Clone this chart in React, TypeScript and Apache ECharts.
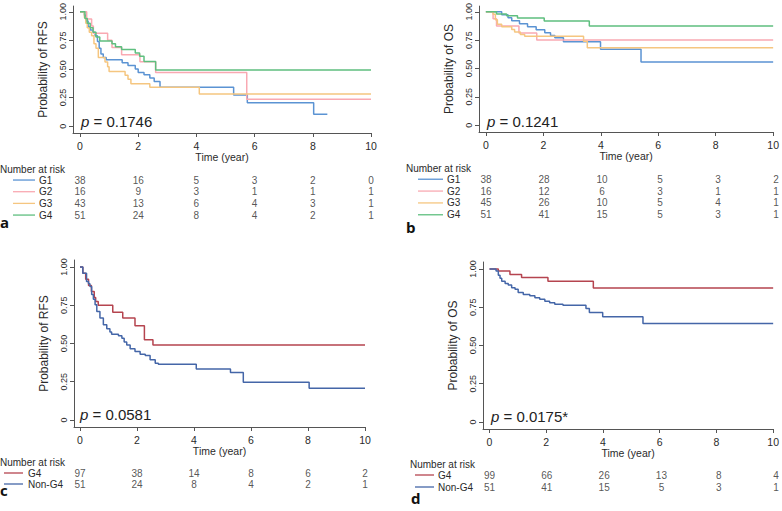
import React, { useEffect, useRef } from 'react';
import * as echarts from 'echarts';

// ---------- tick values / labels ----------
const xTickValues = [0, 2, 4, 6, 8, 10];
const yTickValues = [0, 0.25, 0.5, 0.75, 1];
const yTickLabels = ['0', '0.25', '0.50', '0.75', '1.00'];
const riskTimes = [0, 2, 4, 6, 8, 10];

const groupsAB = ['G1', 'G2', 'G3', 'G4'];
const groupsCD = ['G4', 'Non-G4'];

const yTitles = ['Probability of RFS', 'Probability of OS', 'Probability of RFS', 'Probability of OS'];
const pValues = ['0.1746', '0.1241', '0.0581', '0.0175*'];
const panelLetters = ['a', 'b', 'c', 'd'];

// ---------- Kaplan-Meier curves [time (year), survival] ----------
// Panel a: RFS by group
const rfsG1 = [[0, 1], [0.15, 0.97], [0.2, 0.92], [0.28, 0.87], [0.35, 0.84], [0.45, 0.82], [0.52, 0.79], [0.6, 0.74], [0.66, 0.68], [0.72, 0.63], [0.8, 0.6], [0.9, 0.58], [1.45, 0.555], [1.65, 0.53], [1.9, 0.5], [2.0, 0.47], [2.2, 0.45], [2.4, 0.42], [2.55, 0.39], [2.75, 0.34], [5.28, 0.272], [5.75, 0.205], [8.03, 0.103], [8.5, 0.103]];
const rfsG2 = [[0, 1], [0.23, 0.9375], [0.4, 0.875], [0.46, 0.8125], [0.95, 0.75], [1.1, 0.6875], [1.43, 0.625], [2.06, 0.5625], [2.6, 0.47], [5.73, 0.235], [10, 0.235]];
const rfsG3 = [[0, 1], [0.15, 0.95], [0.2, 0.9], [0.25, 0.86], [0.32, 0.82], [0.4, 0.79], [0.48, 0.72], [0.55, 0.68], [0.63, 0.6], [0.86, 0.56], [0.95, 0.52], [1.0, 0.478], [1.55, 0.445], [1.65, 0.41], [1.75, 0.37], [2.4, 0.34], [4.1, 0.28], [10, 0.28]];
const rfsG4 = [[0, 1], [0.17, 0.94], [0.25, 0.9], [0.35, 0.86], [0.45, 0.82], [0.55, 0.78], [0.68, 0.745], [1.1, 0.72], [1.22, 0.695], [1.43, 0.67], [1.9, 0.64], [2.05, 0.61], [2.2, 0.565], [2.6, 0.49], [10, 0.49]];

// Panel b: OS by group
const osG1 = [[0, 1], [0.55, 0.974], [0.77, 0.947], [0.9, 0.921], [1.17, 0.895], [1.45, 0.868], [1.75, 0.842], [2.05, 0.816], [2.25, 0.79], [2.4, 0.77], [2.7, 0.735], [3.99, 0.67], [5.4, 0.556], [10, 0.556]];
const osG2 = [[0, 1], [0.25, 0.9375], [0.37, 0.875], [1.15, 0.8125], [1.77, 0.75], [10, 0.75]];
const osG3 = [[0, 1], [0.25, 0.978], [0.33, 0.93], [0.4, 0.89], [0.55, 0.867], [0.9, 0.844], [1.0, 0.822], [1.2, 0.8], [1.35, 0.785], [3.4, 0.74], [3.53, 0.683], [10, 0.683]];
const osG4 = [[0, 1], [0.37, 0.98], [0.72, 0.965], [1.1, 0.945], [2.03, 0.918], [3.6, 0.874], [10, 0.874]];

// Panel c: RFS G4 vs Non-G4
const rfsCG4 = [[0, 1], [0.1, 0.96], [0.2, 0.92], [0.3, 0.88], [0.4, 0.84], [0.5, 0.8], [0.55, 0.775], [0.64, 0.75], [1.15, 0.705], [1.5, 0.666], [1.93, 0.616], [2.26, 0.524], [2.56, 0.49], [10, 0.49]];
const rfsCNon = [[0, 1], [0.1, 0.96], [0.23, 0.906], [0.3, 0.89], [0.35, 0.873], [0.41, 0.82], [0.47, 0.79], [0.53, 0.753], [0.59, 0.71], [0.7, 0.666], [0.82, 0.622], [0.94, 0.596], [1.05, 0.575], [1.11, 0.56], [1.35, 0.55], [1.47, 0.535], [1.55, 0.51], [1.64, 0.49], [1.76, 0.465], [1.93, 0.448], [2.11, 0.43], [2.29, 0.421], [2.46, 0.393], [2.64, 0.371], [2.75, 0.365], [4.08, 0.334], [5.28, 0.31], [5.73, 0.247], [8.04, 0.207], [10, 0.207]];

// Panel d: OS G4 vs Non-G4
const osDG4 = [[0, 1], [0.31, 0.987], [0.72, 0.965], [1.13, 0.945], [2.06, 0.92], [3.66, 0.876], [10, 0.876]];
const osDNon = [[0, 1], [0.23, 0.987], [0.31, 0.96], [0.37, 0.94], [0.43, 0.92], [0.55, 0.906], [0.66, 0.895], [0.78, 0.878], [0.9, 0.867], [1.01, 0.847], [1.19, 0.834], [1.42, 0.825], [1.6, 0.812], [1.77, 0.803], [1.95, 0.79], [2.12, 0.78], [2.3, 0.769], [2.59, 0.764], [3.4, 0.742], [3.52, 0.716], [3.99, 0.688], [5.41, 0.644], [10, 0.644]];

// ---------- Number at risk ----------
const riskA_G1 = [38, 16, 5, 3, 2, 0];
const riskA_G2 = [16, 9, 3, 1, 1, 1];
const riskA_G3 = [43, 13, 6, 4, 3, 1];
const riskA_G4 = [51, 24, 8, 4, 2, 1];
const riskB_G1 = [38, 28, 10, 5, 3, 2];
const riskB_G2 = [16, 12, 6, 3, 1, 1];
const riskB_G3 = [45, 26, 10, 5, 4, 1];
const riskB_G4 = [51, 41, 15, 5, 3, 1];
const riskC_G4 = [97, 38, 14, 8, 6, 2];
const riskC_Non = [51, 24, 8, 4, 2, 1];
const riskD_G4 = [99, 66, 26, 13, 8, 4];
const riskD_Non = [51, 41, 15, 5, 3, 1];

// ---------- styles ----------
const colG1 = '#5b93d3';
const colG2 = '#f9a9b2';
const colG3 = '#f5c680';
const colG4 = '#5fbf7f';
const colRed = '#b5444f';
const colBlue = '#4466a8';
const axisCol = '#555555';
const textCol = '#2a2a2a';
const FF = '"Liberation Sans", Arial, sans-serif';

const panels = [
  { left: 73, width: 298, top: 5.3, height: 127.7, xmin: -0.24, ymin: -0.06, ymax: 1.05, xGap: 17,
    tTop: 174.2, tH: 46.7, labM: 34, lx1: 13, lx2: 35, narX: 0, narY: 169, letX: 0, letY: 222, pX: 81, pY: 121.5,
    groups: groupsAB, curves: [rfsG1, rfsG2, rfsG3, rfsG4], risks: [riskA_G1, riskA_G2, riskA_G3, riskA_G4], colors: [colG1, colG2, colG3, colG4] },
  { left: 479, width: 297, top: 3.7, height: 128.3, xmin: -0.24, ymin: -0.06, ymax: 1.05, xGap: 17,
    tTop: 173.3, tH: 47.4, labM: 32, lx1: 418, lx2: 443, narX: 406, narY: 168, letX: 406, letY: 227, pX: 487, pY: 121.5,
    groups: groupsAB, curves: [osG1, osG2, osG3, osG4], risks: [riskB_G1, riskB_G2, riskB_G3, riskB_G4], colors: [colG1, colG2, colG3, colG4] },
  { left: 74, width: 291, top: 260, height: 167, xmin: -0.21, ymin: -0.046, ymax: 1.046, xGap: 17,
    tTop: 467.5, tH: 22, labM: 46, lx1: 4, lx2: 23, narX: 0, narY: 462, letX: 0, letY: 490, pX: 80, pY: 414.5,
    groups: groupsCD, curves: [rfsCG4, rfsCNon], risks: [riskC_G4, riskC_Non], colors: [colRed, colBlue] },
  { left: 483, width: 293, top: 262, height: 167, xmin: -0.23, ymin: -0.046, ymax: 1.046, xGap: 18,
    tTop: 469, tH: 24, labM: 45, lx1: 415, lx2: 434, narX: 410, narY: 464, letX: 411, letY: 498, pX: 491, pY: 416.5,
    groups: groupsCD, curves: [osDG4, osDNon], risks: [riskD_G4, riskD_Non], colors: [colRed, colBlue] },
];

function buildOption() {
  const grid: any[] = [];
  const xAxis: any[] = [];
  const yAxis: any[] = [];
  const series: any[] = [];
  const graphic: any[] = [];

  panels.forEach((p, i) => {
    grid.push({ left: p.left, top: p.top, width: p.width, height: p.height, containLabel: false });
    xAxis.push({
      gridIndex: i, type: 'value', min: p.xmin, max: 10,
      axisLine: { show: true, onZero: false, lineStyle: { color: axisCol, width: 1 } },
      axisTick: { show: true, length: 4, customValues: xTickValues, lineStyle: { color: axisCol } },
      axisLabel: { customValues: xTickValues, margin: 7, fontSize: 10.5, color: textCol, fontFamily: FF },
      splitLine: { show: false },
      name: 'Time (year)', nameLocation: 'middle', nameGap: p.xGap,
      nameTextStyle: { fontSize: 10.5, color: textCol, fontFamily: FF },
    });
    yAxis.push({
      gridIndex: i, type: 'value', min: p.ymin, max: p.ymax,
      axisLine: { show: true, onZero: false, lineStyle: { color: axisCol, width: 1 } },
      axisTick: { show: true, length: 4, customValues: yTickValues, lineStyle: { color: axisCol } },
      axisLabel: {
        customValues: yTickValues, rotate: 90, margin: 6, fontSize: 9, color: textCol, fontFamily: FF,
        formatter: (v: number) => {
          const k = yTickValues.findIndex((t) => Math.abs(t - v) < 1e-6);
          return k >= 0 ? yTickLabels[k] : '';
        },
      },
      splitLine: { show: false },
      name: yTitles[i], nameLocation: 'middle', nameRotate: 90, nameGap: 24,
      nameTextStyle: { fontSize: 12, color: textCol, fontFamily: FF },
    });
    p.curves.forEach((c, k) => {
      series.push({
        type: 'line', xAxisIndex: i, yAxisIndex: i, data: c, step: 'end', symbol: 'none', silent: true,
        lineStyle: { width: 1.5, color: p.colors[k] }, itemStyle: { color: p.colors[k] },
      });
    });
  });

  panels.forEach((p, i) => {
    const gi = 4 + i;
    grid.push({ left: p.left, top: p.tTop, width: p.width, height: p.tH, containLabel: false });
    xAxis.push({ gridIndex: gi, type: 'value', min: p.xmin, max: 10, show: false });
    yAxis.push({
      gridIndex: gi, type: 'category', data: p.groups, inverse: true,
      axisLine: { show: false }, axisTick: { show: false }, splitLine: { show: false },
      axisLabel: { interval: 0, align: 'left', margin: p.labM, fontSize: 10, color: textCol, fontFamily: FF },
    });
    p.groups.forEach((g, k) => {
      series.push({
        type: 'scatter', xAxisIndex: gi, yAxisIndex: gi, symbolSize: 0, silent: true,
        data: riskTimes.map((t, j) => [t, g, p.risks[k][j]]),
        label: { show: true, position: 'inside', formatter: (q: any) => String(q.value[2]), fontSize: 10, color: textCol, fontFamily: FF },
      });
      const rowH = p.tH / p.groups.length;
      const y = p.tTop + (k + 0.5) * rowH;
      graphic.push({ type: 'line', shape: { x1: p.lx1, y1: y, x2: p.lx2, y2: y }, style: { stroke: p.colors[k], lineWidth: 1.3 }, silent: true });
    });
    graphic.push({ type: 'text', x: p.narX, y: p.narY, style: { text: 'Number at risk', fontSize: 10, fontFamily: FF, fill: textCol, verticalAlign: 'middle' }, silent: true });
    graphic.push({ type: 'text', x: p.letX, y: p.letY, style: { text: panelLetters[i], fontSize: 15, fontWeight: 'bold', fontFamily: '"Open Sans", sans-serif', fill: '#111', verticalAlign: 'middle' }, silent: true });
    graphic.push({
      type: 'text', x: p.pX, y: p.pY, silent: true,
      style: {
        text: '{i|p} = ' + pValues[i], fontSize: 15, fontFamily: FF, fill: '#222', verticalAlign: 'middle',
        rich: { i: { fontStyle: 'italic', fontSize: 15, fontFamily: FF, fill: '#222' } },
      },
    });
  });

  return { animation: false, backgroundColor: '#ffffff', grid, xAxis, yAxis, series, graphic };
}

export default function App() {
  const ref = useRef<HTMLDivElement>(null);
  useEffect(() => {
    if (!ref.current) return;
    const chart = echarts.init(ref.current, undefined, { renderer: 'svg' });
    chart.setOption(buildOption() as any);
    return () => chart.dispose();
  }, []);
  return <div ref={ref} style={{ position: 'fixed', left: 0, top: 0, width: 782, height: 511, background: '#fff' }} />;
}
